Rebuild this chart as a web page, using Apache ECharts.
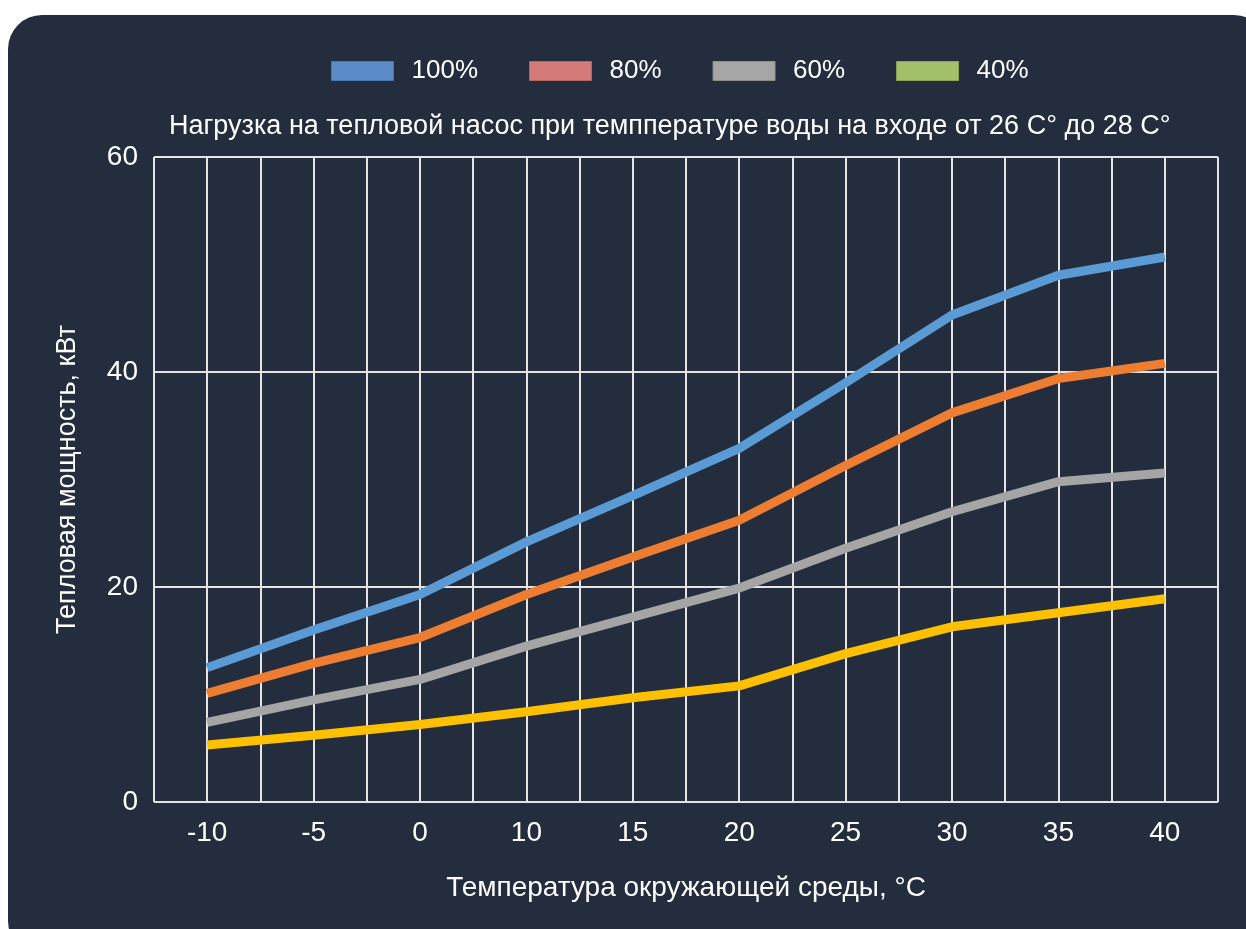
<!DOCTYPE html>
<html lang="ru">
<head>
<meta charset="utf-8">
<title>Нагрузка на тепловой насос</title>
<script src="https://cdn.jsdelivr.net/npm/echarts@6/dist/echarts.min.js"></script>
<style>
  html, body { margin: 0; padding: 0; background: #ffffff; width: 1246px; height: 929px; overflow: hidden; }
  #card { position: absolute; left: 8px; top: 15px; width: 1260px; height: 940px; border-radius: 34px; background: #232d3d; }
  #chart { position: absolute; left: 0; top: 0; width: 1246px; height: 929px; }
</style>
</head>
<body>
<div id="card"></div>
<div id="chart"></div>
<script>
// Ambient temperature, °C
const categories = ['-10', '-5', '0', '10', '15', '20', '25', '30', '35', '40'];
// Heating output, kW, per compressor load
const load100 = [12.5, 16.0, 19.3, 24.2, 28.5, 32.9, 39.0, 45.3, 49.0, 50.7];
const load80  = [10.1, 12.9, 15.3, 19.3, 22.8, 26.2, 31.3, 36.2, 39.4, 40.8];
const load60  = [7.4, 9.5, 11.4, 14.5, 17.2, 19.9, 23.6, 27.0, 29.8, 30.6];
const load40  = [5.3, 6.2, 7.2, 8.4, 9.7, 10.8, 13.8, 16.3, 17.6, 18.9];
const seriesNames = ['100%', '80%', '60%', '40%'];
const yTicks = [0, 20, 40, 60];

const FONT = "'Liberation Sans', Arial, sans-serif";
const WHITE = '#ffffff';
const GRID = '#e4e4e4';

const lineColors = ['#5b9bd5', '#ed7d31', '#a5a5a5', '#ffc000'];
const legendColors = ['#5b8cc8', '#d47a78', '#a6a6a6', '#a3c16b'];
const legendBorders = ['#4a77ad', '#b86563', '#8e8e8e', '#89a656'];
const values = [load100, load80, load60, load40];

const chart = echarts.init(document.getElementById('chart'), null, { renderer: 'canvas' });

chart.setOption({
  backgroundColor: 'transparent',
  animation: false,
  textStyle: { fontFamily: FONT, color: WHITE },
  title: {
    text: 'Нагрузка на тепловой насос при темпперaтуре воды на входе от 26 C° до 28 C°',
    left: 169,
    top: 113,
    padding: 0,
    textStyle: { color: WHITE, fontSize: 27, fontWeight: 'normal', fontFamily: FONT }
  },
  legend: {
    left: 331,
    top: 58,
    padding: 0,
    icon: 'rect',
    itemWidth: 62,
    itemHeight: 19,
    itemGap: 51,
    textStyle: { color: WHITE, fontSize: 26, fontFamily: FONT, padding: [0, 0, 0, 13] },
    data: seriesNames.map((n, i) => ({
      name: n,
      icon: 'rect',
      itemStyle: { color: legendColors[i], borderColor: legendBorders[i], borderWidth: 1 }
    }))
  },
  grid: { left: 154, right: 28, top: 157, bottom: 127, containLabel: false },
  xAxis: [
    {
      type: 'category',
      data: categories,
      boundaryGap: true,
      position: 'bottom',
      axisLine: { show: false },
      axisTick: { show: false },
      splitLine: { show: false },
      axisLabel: { color: WHITE, fontSize: 28, fontFamily: FONT, margin: 17 },
      name: 'Температура окружающей среды, °C',
      nameLocation: 'middle',
      nameGap: 72,
      nameTextStyle: { color: WHITE, fontSize: 28, fontFamily: FONT }
    },
    {
      // Grid lines at every category centre and every band edge
      type: 'value',
      min: -0.5,
      max: categories.length - 0.5,
      interval: 0.5,
      position: 'top',
      axisLine: { show: false },
      axisTick: { show: false },
      axisLabel: { show: false },
      splitLine: { show: true, lineStyle: { color: GRID, width: 2 } }
    }
  ],
  yAxis: {
    type: 'value',
    min: yTicks[0],
    max: yTicks[yTicks.length - 1],
    interval: yTicks[1] - yTicks[0],
    axisLine: { show: false },
    axisTick: { show: false },
    axisLabel: { color: WHITE, fontSize: 28, fontFamily: FONT, margin: 16 },
    splitLine: { show: true, lineStyle: { color: GRID, width: 2 } },
    name: 'Тепловая мощность, кВт',
    nameLocation: 'middle',
    nameGap: 73,
    nameRotate: 90,
    nameTextStyle: { color: WHITE, fontSize: 27, fontFamily: FONT }
  },
  series: seriesNames.map((n, i) => ({
    name: n,
    type: 'line',
    xAxisIndex: 0,
    data: values[i],
    showSymbol: false,
    symbol: 'none',
    smooth: false,
    lineStyle: { color: lineColors[i], width: 9, cap: 'butt', join: 'round' },
    itemStyle: { color: lineColors[i] },
    z: 10 - i
  }))
});
</script>
</body>
</html>
